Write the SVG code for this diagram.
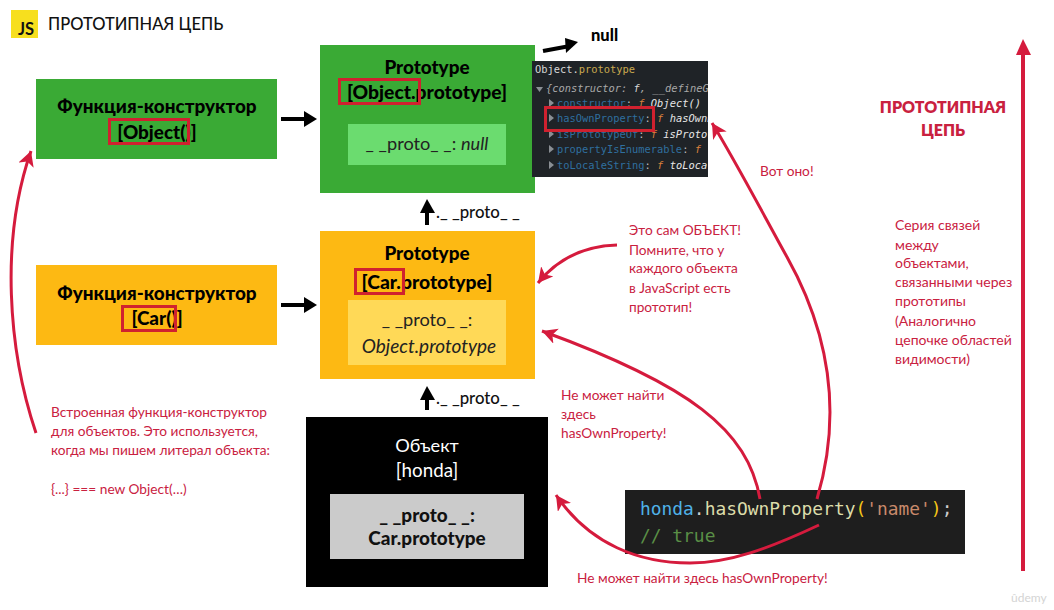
<svg xmlns="http://www.w3.org/2000/svg" width="1054" height="610" viewBox="0 0 1054 610">
<defs>
<marker id="ar" markerUnits="userSpaceOnUse" markerWidth="18" markerHeight="18" refX="15" refY="8" orient="auto"><path d="M0 0L15 8L0 16L4 8Z" fill="#d51b3d"/></marker>
<clipPath id="dt"><rect x="532" y="61" width="176" height="116"/></clipPath>
</defs>
<style>
text{font-family:"Lato","Noto Sans",sans-serif}
.h{font-weight:900;font-size:18.9px;fill:#000;text-anchor:middle}
.w{font-size:19.3px}
.b{font-size:18.2px;text-anchor:middle;fill:#222}
.r{font-size:13.7px;fill:#c9213f}
.s{font-size:14px;fill:#c9213f}
.p{font-size:16.8px;font-weight:500;fill:#111}
.t{font-size:16px;font-weight:800;fill:#c9213f;text-anchor:middle}
.c{fill:none;stroke:#d51b3d;stroke-width:3}
.box{fill:none;stroke:#d0212f;stroke-width:3}
.blk{stroke:#000;stroke-width:4;fill:none}
.m{font-family:"DejaVu Sans Mono","Liberation Mono",monospace;font-size:10.4px}
.k{fill:#2f6f9f}
.f{fill:#d9803c;font-style:italic}
.v{fill:#e6e6e6;font-style:italic}
.tri{fill:#8a8f94}
.code{font-family:"DejaVu Sans Mono","Liberation Mono",monospace;font-size:17.9px}
</style>
<rect width="1054" height="610" fill="#fff"/>
<g id="title"><rect x="11" y="10" width="27" height="28" fill="#f7df1e"/><text x="18" y="35" font-size="16.5" font-weight="700" fill="#111">JS</text><text x="48" y="30" font-size="16.5" font-weight="500" fill="#111">ПРОТОТИПНАЯ ЦЕПЬ</text></g>
<g id="ctor-object"><rect x="36" y="79" width="241" height="80" fill="#3aaa35"/><text class="h" x="157" y="113">Функция-конструктор</text><text class="h" x="157" y="139">[Object()]</text><rect class="box" x="109.500" y="119.500" width="79" height="24"/></g>
<g id="ctor-car"><rect x="36" y="265" width="241" height="80" fill="#fdb913"/><text class="h" x="157" y="300">Функция-конструктор</text><text class="h" x="157" y="325">[Car()]</text><rect class="box" x="122.500" y="306.500" width="53" height="24"/></g>
<g id="proto-object"><rect x="320" y="45" width="215" height="148" fill="#3aaa35"/><text class="h" x="427" y="74">Prototype</text><text class="h w" x="427" y="99">[Object.prototype]</text><rect class="box" x="339.500" y="79.500" width="80" height="24"/><rect x="348" y="124" width="158" height="41" fill="#6bdc6f"/><text class="b" x="427" y="150">_ _proto_ _: <tspan font-style="italic">null</tspan></text></g>
<g id="proto-car"><rect x="320" y="231" width="215" height="148" fill="#fdb913"/><text class="h" x="427" y="260">Prototype</text><text class="h w" x="427" y="289">[Car.prototype]</text><rect class="box" x="355.500" y="269.500" width="48" height="24"/><rect x="348" y="300" width="158" height="65" fill="#ffd957"/><text class="b" x="427" y="326">_ _proto_ _:</text><text class="b" x="429" y="353" font-style="italic" style="font-size:19px">Object.prototype</text></g>
<g id="object-honda"><rect x="306" y="417" width="242" height="170" fill="#000"/><text class="b" x="427" y="452" style="fill:#fff">Объект</text><text class="b" x="427" y="477" style="fill:#fff;font-size:18.8px">[honda]</text><rect x="330" y="494" width="194" height="65" fill="#cbcbcb"/><text class="h" x="427" y="522" style="fill:#111">_ _proto_ _:</text><text class="h" x="427" y="545" style="fill:#111">Car.prototype</text></g>
<g id="devtools"><rect x="532" y="61" width="176" height="116" fill="#1f2327"/>
<g clip-path="url(#dt)">
<text class="m" x="535" y="73" fill="#d8d8d8">Object.<tspan fill="#c9a94e">prototype</tspan></text>
<path class="tri" d="M536 87H543L539.500 92Z"/>
<text class="m" x="546" y="92" fill="#a8a8a8" font-style="italic">{constructor: <tspan fill="#d8d8d8">f</tspan>, __defineGetter__</text>
<path class="tri" d="M549 99L554 103L549 107Z"/><text class="m k" x="557" y="107">constructor<tspan fill="#bbb">: </tspan><tspan class="f">f </tspan><tspan class="v">Object()</tspan></text>
<path class="tri" d="M549 114L554 118L549 122Z"/><text class="m k" x="557" y="122">hasOwnProperty<tspan fill="#bbb">: </tspan><tspan class="f">f </tspan><tspan class="v">hasOwnProperty</tspan></text>
<path class="tri" d="M549 130L554 134L549 138Z"/><text class="m k" x="557" y="138">isPrototypeOf<tspan fill="#bbb">: </tspan><tspan class="f">f </tspan><tspan class="v">isPrototypeOf</tspan></text>
<path class="tri" d="M549 145L554 149L549 153Z"/><text class="m k" x="557" y="153">propertyIsEnumerable<tspan fill="#bbb">: </tspan><tspan class="f">f</tspan></text>
<path class="tri" d="M549 161L554 165L549 169Z"/><text class="m k" x="557" y="169">toLocaleString<tspan fill="#bbb">: </tspan><tspan class="f">f </tspan><tspan class="v">toLocaleString</tspan></text>
</g>
<rect class="box" x="545.500" y="107.500" width="108" height="23"/></g>
<g id="code"><rect x="625" y="490" width="340" height="64" fill="#1e1e1e"/><text class="code" x="640" y="515" fill="#dcdcaa"><tspan fill="#4fb2e8">honda</tspan><tspan fill="#ccc">.</tspan>hasOwnProperty<tspan fill="#f5c518">(</tspan><tspan fill="#c98a6b">'name'</tspan><tspan fill="#f5c518">)</tspan><tspan fill="#ccc">;</tspan></text><text class="code" x="640" y="542" fill="#5a8f46">// true</text></g>
<g id="connectors">
<path class="blk" d="M281 119H308"/><path d="M304 111L317 119L304 127Z"/>
<path class="blk" d="M281 305H308"/><path d="M304 297L317 305L304 313Z"/>
<path class="blk" d="M427 225V208"/><path d="M420 213L427 199L435 213Z"/>
<path class="blk" d="M427 410V394"/><path d="M420 400L427 386L435 400Z"/>
<path class="blk" d="M543 51L570 46"/><path d="M565 38L578 42L566 53Z"/>
<path class="c" d="M36 433C8 350 0 240 31 151" marker-end="url(#ar)"/>
<path class="c" d="M617 245C585 246 558 258 538 283" marker-end="url(#ar)"/>
<path class="c" d="M760 499C748 430 690 385 542 331" marker-end="url(#ar)"/>
<path class="c" d="M817 499C845 405 825 325 787 257C768 223 735 160 712 123" marker-end="url(#ar)"/>
<path class="c" d="M819 525C770 548 730 563 690 563C640 563 590 545 556 495" marker-end="url(#ar)"/>
<path d="M1023 571V52" stroke="#d51b3d" stroke-width="4" fill="none"/><path d="M1016 55L1023 39L1031 55Z" fill="#d51b3d"/>
</g>
<g id="labels">
<text x="591" y="41" font-size="16.500" font-weight="900" fill="#000">null</text>
<text class="p" x="436" y="218">._ _proto_ _</text>
<text class="p" x="436" y="404">._ _proto_ _</text>
<text class="r" x="51" y="417">Встроенная функция-конструктор</text>
<text class="r" x="51" y="436">для объектов. Это используется,</text>
<text class="r" x="51" y="455">когда мы пишем литерал объекта:</text>
<text class="r" x="51" y="494">{...} === new Object(…)</text>
<text class="r" x="629" y="235">Это сам ОБЪЕКТ!</text>
<text class="r" x="629" y="255">Помните, что у</text>
<text class="r" x="629" y="273">каждого объекта</text>
<text class="r" x="629" y="293">в JavaScript есть</text>
<text class="r" x="629" y="312">прототип!</text>
<text class="r" x="561" y="400">Не может найти</text>
<text class="r" x="561" y="419">здесь</text>
<text class="r" x="561" y="438">hasOwnProperty!</text>
<text class="r" x="577" y="583">Не может найти здесь hasOwnProperty!</text>
<text class="r" x="760" y="176">Вот оно!</text>
<text class="t" x="943" y="113">ПРОТОТИПНАЯ</text>
<text class="t" x="943" y="136">ЦЕПЬ</text>
<text class="s" x="895" y="230">Серия связей</text>
<text class="s" x="895" y="250">между</text>
<text class="s" x="895" y="268">объектами,</text>
<text class="s" x="895" y="287">связанными через</text>
<text class="s" x="895" y="306">прототипы</text>
<text class="s" x="895" y="326">(Аналогично</text>
<text class="s" x="895" y="345">цепочке областей</text>
<text class="s" x="895" y="364">видимости)</text>
<text x="1011" y="602" font-size="12" fill="#d4d4d4">ûdemy</text>
</g>
</svg>
